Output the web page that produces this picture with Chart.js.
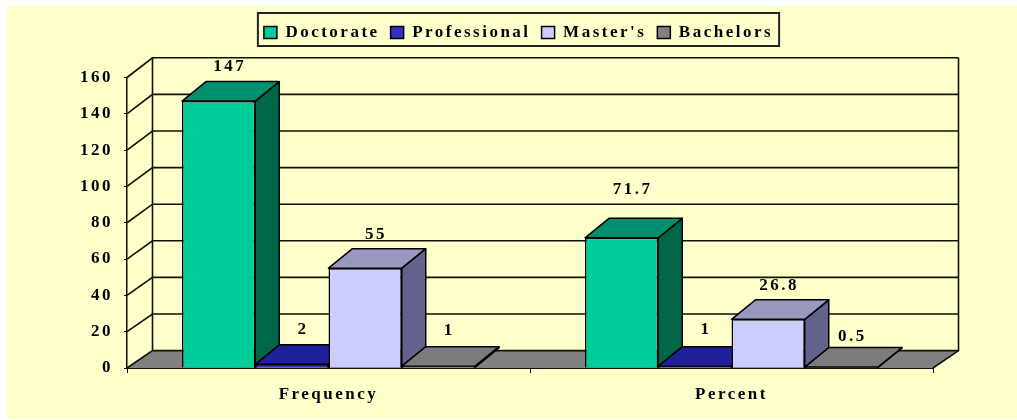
<!DOCTYPE html>
<html><head><meta charset="utf-8">
<script src="https://cdn.jsdelivr.net/npm/chart.js@4"></script>
<style>html,body{margin:0;padding:0;background:#fff;overflow:hidden}canvas{display:block;filter:blur(0.45px)}</style>
</head><body><canvas id="c" width="1017" height="420"></canvas>
<script>
const categories = ["Frequency", "Percent"];
const seriesNames = ["Doctorate", "Professional", "Master's", "Bachelors"];
const doctorate = [147, 71.7];
const professional = [2, 1];
const masters = [55, 26.8];
const bachelors = [1, 0.5];
const yMin = 0, yMax = 160, yStep = 20;

const frontColors = ["#00CC99", "#3030C4", "#CCCCFF", "#808080"];
const topColors = ["#009070", "#20209A", "#9999BF", "#7C7C7C"];
const sideColors = ["#006648", "#141470", "#62628A", "#555555"];
const ink = "#111100";
const serif = '"Liberation Serif", serif';
const depthX = 24, depthY = -19.5;

// label placement tweaks, keyed "dataset:category"
const labelLift = { '0:1': 14, '3:1': -4, '1:0': 1, '1:1': 3, '3:0': 2 };

const threeD = {
  id: 'threeD',
  beforeDraw(chart) {
    const c = chart.ctx;
    c.save();
    c.fillStyle = '#FFFFCC';
    c.fillRect(7, 6, chart.width - 7, chart.height - 7);
    c.restore();
  },
  beforeDatasetsDraw(chart) {
    const c = chart.ctx, y = chart.scales.y, x = chart.scales.x;
    const L = x.left, R = x.right, wx = 25.5;
    const backY = v => y.getPixelForValue(v) - 17.4 - (v / yMax) * 2.3;
    const y0 = y.getPixelForValue(0);
    c.save();
    c.fillStyle = '#808080';
    c.beginPath();
    c.moveTo(L, y0); c.lineTo(L + wx, backY(0)); c.lineTo(R + wx, backY(0)); c.lineTo(R, y0); c.closePath();
    c.fill();
    c.strokeStyle = ink; c.lineWidth = 1.6;
    y.ticks.forEach(t => {
      const py = y.getPixelForValue(t.value), by = backY(t.value);
      c.beginPath(); c.moveTo(L, py); c.lineTo(L + wx, by);
      c.lineTo(R + wx, by);
      c.stroke();
    });
    c.beginPath(); c.moveTo(L + wx, backY(yMax)); c.lineTo(L + wx, backY(0)); c.stroke();
    c.beginPath(); c.moveTo(R + wx, backY(yMax)); c.lineTo(R + wx, backY(0)); c.lineTo(R, y0); c.stroke();

    chart.data.labels.forEach((_, i) => {
      chart.data.datasets.forEach((ds, d) => {
        const el = chart.getDatasetMeta(d).data[i];
        const l = el.x - el.width / 2, r = el.x + el.width / 2, t = el.y, b = el.base;
        c.lineWidth = 1.5; c.strokeStyle = '#000'; c.lineJoin = 'round';
        c.fillStyle = sideColors[d];
        c.beginPath(); c.moveTo(r, t); c.lineTo(r + depthX, t + depthY); c.lineTo(r + depthX, b + depthY); c.lineTo(r, b); c.closePath();
        c.fill(); c.stroke();
        c.fillStyle = topColors[d];
        c.beginPath(); c.moveTo(l, t); c.lineTo(l + depthX, t + depthY); c.lineTo(r + depthX, t + depthY); c.lineTo(r, t); c.closePath();
        c.fill(); c.stroke();
        el.draw(c);
      });
    });
    c.font = 'bold 17px ' + serif;
    c.fillStyle = '#000'; c.textAlign = 'center'; c.textBaseline = 'middle';
    chart.data.datasets.forEach((ds, d) => {
      chart.getDatasetMeta(d).data.forEach((el, i) => {
        const lift = labelLift[d + ':' + i] || 0;
        c.fillText(String(ds.data[i]), el.x + 11, el.y - 34 - lift);
      });
    });
    c.restore();
    return false;
  },
  afterDraw(chart) {
    const c = chart.ctx, h = chart.legend.legendHitBoxes;
    const a = h[0], z = h[h.length - 1];
    c.save();
    c.strokeStyle = '#222'; c.lineWidth = 2;
    c.strokeRect(a.left - 6, 13, z.left + z.width - a.left + 12, 33);
    c.restore();
  }
};
const spacing = {
  id: 'spacing',
  beforeUpdate(chart) { chart.ctx.letterSpacing = '2.5px'; },
  beforeDraw(chart) { chart.ctx.letterSpacing = '2.5px'; }
};

const seriesValues = [doctorate, professional, masters, bachelors];
new Chart(document.getElementById('c'), {
  type: 'bar',
  data: {
    labels: categories,
    datasets: seriesNames.map((n, i) => ({
      label: n, data: seriesValues[i], xAxisID: 'x', yAxisID: 'y',
      backgroundColor: frontColors[i], borderColor: '#000', borderWidth: 1.5,
      categoryPercentage: 0.727, barPercentage: 1
    }))
  },
  options: {
    responsive: false, animation: false, devicePixelRatio: 1,
    layout: { padding: { left: 20, right: 0, top: 13, bottom: 0 } },
    plugins: {
      tooltip: { enabled: false },
      title: { display: false },
      legend: {
        display: true, position: 'top', align: 'center',
        labels: {
          boxWidth: 13, boxHeight: 12, padding: 11, color: '#000',
          font: { family: serif, weight: 'bold', size: 17 },
          generateLabels(chart) {
            return seriesNames.map((n, i) => ({
              text: n, fillStyle: frontColors[i], strokeStyle: '#000', lineWidth: 1.5, datasetIndex: i, fontColor: '#000'
            }));
          }
        }
      }
    },
    scales: {
      x: {
        grid: { display: true, drawOnChartArea: false, drawTicks: true, tickLength: 5, color: ink, offset: true },
        border: { display: true, color: ink, width: 2 },
        ticks: { color: '#000', padding: 11, maxRotation: 0, font: { family: serif, weight: 'bold', size: 17 } },
        afterFit(s) { s.height = 52; }
      },
      x2: {
        type: 'linear', position: 'top', min: 0, max: 1,
        grid: { display: false }, border: { display: false }, ticks: { display: false },
        afterFit(s) { s.height = 26.5; }
      },
      y: {
        min: yMin, max: yMax, position: 'left',
        grid: { display: true, drawOnChartArea: false, drawTicks: true, tickLength: 3, color: ink },
        border: { display: true, color: ink, width: 1.5 },
        ticks: { stepSize: yStep, color: '#000', padding: 11, font: { family: serif, weight: 'bold', size: 17 } },
        afterFit(s) { s.width = 107; }
      },
      y2: {
        min: yMin, max: yMax, position: 'right',
        grid: { display: false }, border: { display: false }, ticks: { display: false },
        afterFit(s) { s.width = 84; }
      }
    }
  },
  plugins: [spacing, threeD]
});
</script></body></html>
